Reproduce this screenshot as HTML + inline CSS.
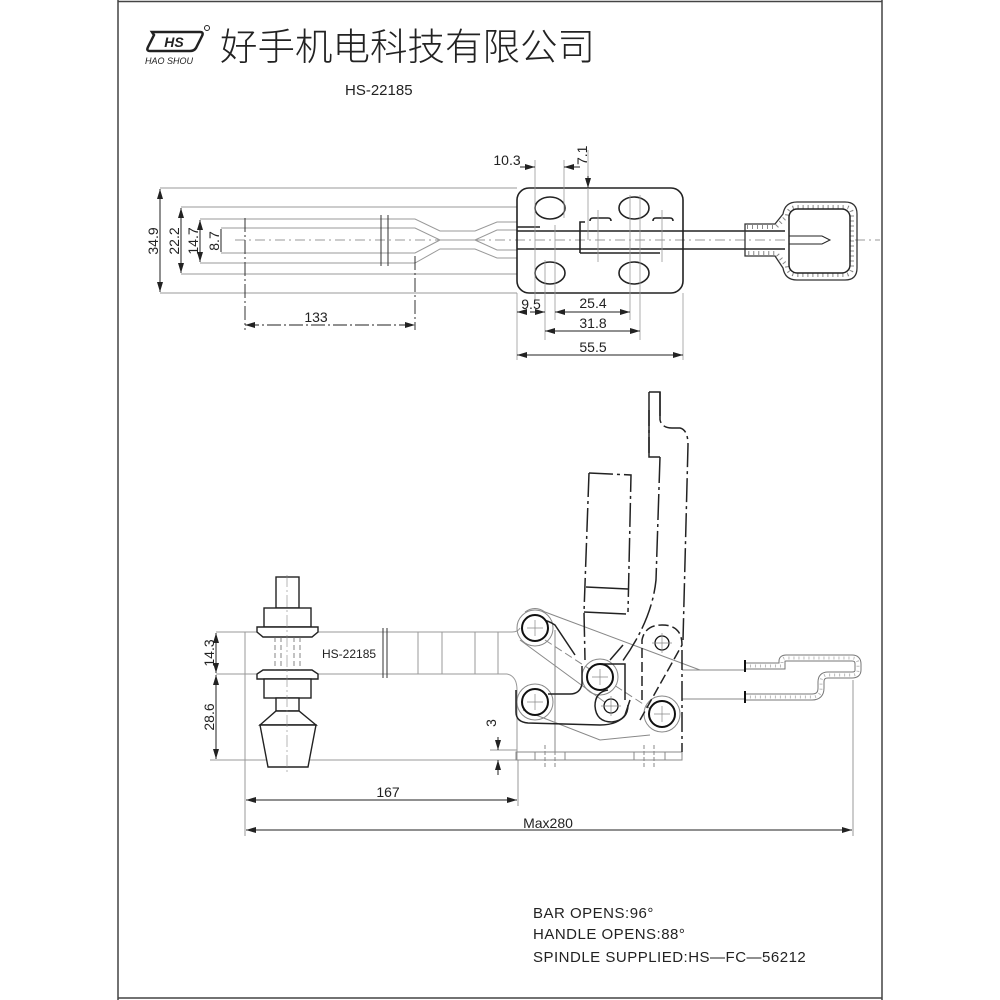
<!DOCTYPE html>
<html><head><meta charset="utf-8"><style>
html,body{margin:0;padding:0;background:#fff;width:1000px;height:1000px;overflow:hidden}
svg{display:block}
text{font-family:"Liberation Sans","Noto Sans CJK SC",sans-serif;fill:#222}
</style></head><body>
<svg width="1000" height="1000" viewBox="0 0 1000 1000" xmlns="http://www.w3.org/2000/svg">
<defs>
<marker id="a" viewBox="0 0 10 6" refX="10" refY="3" markerWidth="10" markerHeight="6" orient="auto-start-reverse" markerUnits="userSpaceOnUse"><path d="M0,0 L10,3 L0,6z" fill="#222"/></marker>
</defs>
<!-- frame -->
<line x1="118" y1="0" x2="118" y2="1000" stroke="#444" stroke-width="1.5"/>
<line x1="882" y1="0" x2="882" y2="1000" stroke="#444" stroke-width="1.5"/>
<line x1="118" y1="998" x2="882" y2="998" stroke="#444" stroke-width="1.5"/>
<line x1="118" y1="1.5" x2="882" y2="1.5" stroke="#444" stroke-width="1.5"/>

<!-- header -->
<path d="M152,32 L200,32 Q204,32 202,36 L196,48 Q194,51 190,51 L150,51 Q146,51 148,47 L154,35 Z" fill="none" stroke="#222" stroke-width="2.5"/>
<text x="174" y="47" font-size="14" font-weight="bold" font-style="italic" text-anchor="middle">HS</text>
<circle cx="207" cy="28" r="2.5" fill="none" stroke="#222"/>
<text x="145" y="64" font-size="9" font-style="italic">HAO SHOU</text>
<text x="220" y="60" font-size="37.5" style="font-family:'Noto Sans CJK SC',sans-serif;font-weight:300">好手机电科技有限公司</text>
<text x="345" y="95" font-size="15">HS-22185</text>

<!-- ===== TOP VIEW ===== -->
<g fill="none" stroke="#999" stroke-width="1">
<line x1="160" y1="188" x2="517" y2="188"/>
<line x1="160" y1="293" x2="517" y2="293"/>
<line x1="181" y1="207" x2="517" y2="207"/>
<line x1="181" y1="274" x2="517" y2="274"/>
<path d="M200,219 L415,219 L440,231 L475,231 L497,222 L517,222"/>
<path d="M200,263 L415,263 L440,249 L475,249 L497,258 L517,258"/>
<path d="M221,228 L415,228 L440,240 L475,240 L497,230 L517,230"/>
<path d="M221,253 L415,253 L440,240"/>
<path d="M475,240 L497,250 L517,250"/>
<line x1="235" y1="240" x2="880" y2="240" stroke-dasharray="10,4,2,4"/>
</g>
<g stroke="#333" stroke-width="1">
<line x1="381" y1="215" x2="381" y2="266"/><line x1="388" y1="215" x2="388" y2="266"/>
<line x1="245" y1="218" x2="245" y2="330" stroke-dasharray="14,3,2,3"/>
<line x1="415" y1="256" x2="415" y2="330" stroke-dasharray="14,3,2,3"/>
</g>
<g stroke="#222" stroke-width="1" marker-start="url(#a)" marker-end="url(#a)">
<line x1="160" y1="189" x2="160" y2="292"/>
<line x1="181" y1="208" x2="181" y2="273"/>
<line x1="200" y1="220" x2="200" y2="262"/>
<line x1="245" y1="325" x2="415" y2="325" stroke-dasharray="14,3,2,3"/>
</g>
<line x1="221" y1="229" x2="221" y2="252" stroke="#222"/>
<text transform="translate(158,241) rotate(-90)" font-size="14" text-anchor="middle">34.9</text>
<text transform="translate(179,241) rotate(-90)" font-size="14" text-anchor="middle">22.2</text>
<text transform="translate(198,241) rotate(-90)" font-size="14" text-anchor="middle">14.7</text>
<text transform="translate(219,241) rotate(-90)" font-size="14" text-anchor="middle">8.7</text>
<text x="316" y="322" font-size="14" text-anchor="middle">133</text>

<!-- base plate -->
<rect x="517" y="188" width="166" height="105" rx="12" fill="none" stroke="#222" stroke-width="1.6"/>
<g fill="none" stroke="#222" stroke-width="1.6">
<ellipse cx="550" cy="208" rx="15" ry="11"/><ellipse cx="634" cy="208" rx="15" ry="11"/>
<ellipse cx="550" cy="273" rx="15" ry="11"/><ellipse cx="634" cy="273" rx="15" ry="11"/>
<line x1="517" y1="231" x2="785" y2="231"/><line x1="517" y1="249" x2="785" y2="249"/>
<line x1="517" y1="227" x2="540" y2="227"/>
<path d="M580,253 L580,222 L585,222"/><line x1="580" y1="253" x2="660" y2="253"/>
<path d="M590,221 Q590,218 593,218 L608,218 Q611,218 611,221"/>
<path d="M653,221 Q653,218 656,218 L670,218 Q673,218 673,221"/>
</g>
<g stroke="#999" stroke-width="0.8">
<line x1="535" y1="160" x2="535" y2="300"/><line x1="564" y1="160" x2="564" y2="218"/>
<line x1="545" y1="260" x2="545" y2="340"/><line x1="555" y1="225" x2="555" y2="320"/>
<line x1="630" y1="195" x2="630" y2="320"/><line x1="640" y1="195" x2="640" y2="340"/>
<line x1="517" y1="293" x2="517" y2="360"/><line x1="683" y1="293" x2="683" y2="360"/>
<line x1="588" y1="150" x2="588" y2="240"/>
<line x1="662" y1="210" x2="662" y2="262"/><line x1="598" y1="210" x2="598" y2="262"/>
</g>
<g stroke="#222" stroke-width="1" marker-end="url(#a)">
<line x1="520" y1="167" x2="535" y2="167"/><line x1="580" y1="167" x2="564" y2="167"/>
<line x1="588" y1="176" x2="588" y2="188"/>
<line x1="520" y1="312" x2="517" y2="312"/><line x1="530" y1="312" x2="545" y2="312"/>
</g>
<g stroke="#222" stroke-width="1" marker-start="url(#a)" marker-end="url(#a)">
<line x1="555" y1="312" x2="630" y2="312"/>
<line x1="545" y1="331" x2="640" y2="331"/>
<line x1="517" y1="355" x2="683" y2="355"/>
</g>
<text x="507" y="165" font-size="14" text-anchor="middle">10.3</text>
<text transform="translate(587,165) rotate(-90)" font-size="14">7.1</text>
<text x="531" y="309" font-size="14" text-anchor="middle">9.5</text>
<text x="593" y="308" font-size="14" text-anchor="middle">25.4</text>
<text x="593" y="328" font-size="14" text-anchor="middle">31.8</text>
<text x="593" y="352" font-size="14" text-anchor="middle">55.5</text>

<!-- handle grip top -->
<g fill="none">
<path d="M745,224 L775,224 L783,214 Q785,202 797,202 L845,202 Q857,202 857,214 L857,268 Q857,280 845,280 L797,280 Q785,280 783,268 L775,256 L745,256 Z" stroke="#333" stroke-width="1.3"/>
<path d="M747,227 L776,227 L787,216 Q788,207 798,207 L845,207 Q852,207 852,215 L852,267 Q852,275 844,275 L798,275 Q788,275 787,266 L776,253 L747,253" stroke="#888" stroke-width="4" stroke-dasharray="1,4"/>
<rect x="789" y="209" width="61" height="64" rx="8" stroke="#222" stroke-width="1.5" fill="#fff"/>
<path d="M789,236 L822,236 L830,240 L822,244 L789,244" stroke="#222"/>
</g>

<!-- ===== SIDE VIEW ===== -->
<g fill="none" stroke="#999" stroke-width="1">
<line x1="245" y1="632" x2="512" y2="632"/><line x1="245" y1="674" x2="507" y2="674"/>
<path d="M512,632 Q518,632 520,628"/><path d="M507,674 Q517,676 517,690 L517,760"/>
<line x1="418" y1="632" x2="418" y2="674"/><line x1="442" y1="632" x2="442" y2="674"/>
<line x1="475" y1="632" x2="475" y2="674"/><line x1="498" y1="632" x2="498" y2="674"/>
<line x1="216" y1="632" x2="262" y2="632"/><line x1="216" y1="674" x2="262" y2="674"/>
<line x1="210" y1="760" x2="520" y2="760"/>
<line x1="245" y1="632" x2="245" y2="836"/>
<line x1="518" y1="760" x2="518" y2="806"/>
<line x1="853" y1="680" x2="853" y2="836"/>
<line x1="490" y1="750" x2="517" y2="750"/>
</g>
<g stroke="#333" stroke-width="1"><line x1="383" y1="628" x2="383" y2="678"/><line x1="387" y1="628" x2="387" y2="678"/></g>
<text x="322" y="658" font-size="12">HS-22185</text>
<g fill="#fff" stroke="#222" stroke-width="1.4">
<rect x="276" y="577" width="23" height="31"/>
<rect x="264" y="608" width="47" height="19"/>
<path d="M257,627 L318,627 L318,632 L312,637 L263,637 L257,632 Z"/>
<path d="M263,670 L312,670 L318,674 L318,679 L257,679 L257,674 Z"/>
<rect x="264" y="679" width="47" height="19"/>
<rect x="276" y="698" width="23" height="13"/>
<path d="M276,711 L299,711 L316,725 L260,725 Z"/>
<path d="M260,725 L316,725 L308,767 L268,767 Z"/>
</g>
<g stroke="#666" stroke-width="0.8" stroke-dasharray="5,3"><line x1="275" y1="637" x2="275" y2="670"/><line x1="300" y1="637" x2="300" y2="670"/><line x1="281" y1="637" x2="281" y2="670"/><line x1="294" y1="637" x2="294" y2="670"/></g>
<line x1="287" y1="575" x2="287" y2="775" stroke="#888" stroke-width="0.6" stroke-dasharray="12,3,2,3"/>
<g stroke="#222" stroke-width="1" marker-start="url(#a)" marker-end="url(#a)">
<line x1="216" y1="633" x2="216" y2="673"/>
<line x1="216" y1="675" x2="216" y2="759"/>
<line x1="246" y1="800" x2="517" y2="800"/>
<line x1="246" y1="830" x2="852" y2="830"/>
</g>
<g stroke="#222" stroke-width="1" marker-end="url(#a)"><line x1="498" y1="737" x2="498" y2="750"/><line x1="498" y1="775" x2="498" y2="760"/></g>
<text transform="translate(214,653) rotate(-90)" font-size="14" text-anchor="middle">14.3</text>
<text transform="translate(214,717) rotate(-90)" font-size="14" text-anchor="middle">28.6</text>
<text transform="translate(496,723) rotate(-90)" font-size="14" text-anchor="middle">3</text>
<text x="388" y="797" font-size="14" text-anchor="middle">167</text>
<text x="548" y="828" font-size="14" text-anchor="middle">Max280</text>

<g fill="none" stroke="#888" stroke-width="1">
<rect x="516" y="752" width="166" height="8"/>
<line x1="535" y1="752" x2="535" y2="760"/><line x1="565" y1="752" x2="565" y2="760"/>
<line x1="634" y1="752" x2="634" y2="760"/><line x1="665" y1="752" x2="665" y2="760"/>
<line x1="545" y1="745" x2="545" y2="768" stroke-dasharray="4,2"/><line x1="555" y1="745" x2="555" y2="768" stroke-dasharray="4,2"/>
<line x1="644" y1="745" x2="644" y2="768" stroke-dasharray="4,2"/><line x1="654" y1="745" x2="654" y2="768" stroke-dasharray="4,2"/>
<line x1="555" y1="630" x2="555" y2="752"/>
<path d="M525,612 Q535,605 545,612 L700,670"/>
<path d="M520,640 L610,706"/><path d="M545,640 L660,715" stroke-dasharray="8,4"/>
<path d="M523,710 L600,740 L650,735"/>
<line x1="682" y1="670" x2="745" y2="670"/><line x1="682" y1="699" x2="745" y2="699"/>
<circle cx="535" cy="628" r="18"/><circle cx="535" cy="702" r="18"/><circle cx="600" cy="677" r="18"/><circle cx="662" cy="714" r="18"/>
</g>
<g fill="none" stroke="#222" stroke-width="1.5">
<path d="M527,624 Q540,615 555,625 L575,655"/>
<path d="M582,666 L582,684 Q580,694 570,694 L548,694"/>
<path d="M516,690 L516,712 Q516,722 528,723 L600,725 Q618,725 625,715 L630,700"/>
<path d="M682,650 L682,752" stroke-dasharray="20,4,3,4"/>
<path d="M642,700 L642,640 Q645,625 662,625 Q682,625 682,645 L640,720" stroke-dasharray="10,4"/>
<path d="M600,664 L625,664 L625,700"/>
<path d="M608,690 Q595,692 595,706 Q596,722 612,722 Q628,720 628,705"/>
</g>
<g fill="#fff" stroke="#111" stroke-width="2">
<circle cx="535" cy="628" r="13"/><circle cx="535" cy="702" r="13"/>
<circle cx="600" cy="677" r="13"/><circle cx="662" cy="714" r="13"/>
<circle cx="611" cy="706" r="7" stroke-width="1.3"/><circle cx="662" cy="643" r="7" stroke-width="1.3"/>
</g>
<g stroke="#888" stroke-width="0.7">
<path d="M527,628h16M535,620v16M527,702h16M535,694v16M592,677h16M600,669v16M654,714h16M662,706v16M601,706h20M611,696v20M652,643h20M662,633v20"/>
</g>
<g fill="none" stroke="#222" stroke-width="1.5">
<path d="M649,392 L660,392 L660,420" />
<path d="M660,392 L660,420 Q662,428 672,428 L680,428 Q688,430 688,445 L683,640" stroke-dasharray="24,4,3,4"/>
<path d="M649,392 L649,457 L660,457"/>
<path d="M649,410 L649,457" stroke-dasharray="16,4,3,4"/>
<path d="M660,457 L656,580 Q652,620 622,662" stroke-dasharray="26,4,3,4"/>
<path d="M589,473 L631,475 L628,612" stroke-dasharray="24,4,3,4"/>
<path d="M589,473 L584,612 L585,660" stroke-dasharray="24,4,3,4"/>
<path d="M586,587 L628,589"/><path d="M584,612 L626,614"/>
<path d="M623,645 L610,660"/>
</g>
<g fill="none">
<path d="M745,666 L782,666 L782,661 Q782,658 786,658 L852,658 Q858,658 858,664 L858,670 Q858,675 852,675 L828,675 Q821,675 821,682 L821,688 Q821,697 812,697 L745,697" stroke="#777" stroke-width="7"/>
<path d="M745,666 L782,666 L782,661 Q782,658 786,658 L852,658 Q858,658 858,664 L858,670 Q858,675 852,675 L828,675 Q821,675 821,682 L821,688 Q821,697 812,697 L745,697" stroke="#fff" stroke-width="5"/>
<path d="M745,666 L782,666 L782,661 Q782,658 786,658 L852,658 Q858,658 858,664 L858,670 Q858,675 852,675 L828,675 Q821,675 821,682 L821,688 Q821,697 812,697 L745,697" stroke="#bbb" stroke-width="3" stroke-dasharray="1,4"/>
<line x1="745" y1="660" x2="745" y2="672" stroke="#111" stroke-width="2"/>
<line x1="745" y1="691" x2="745" y2="703" stroke="#111" stroke-width="2"/>
</g>

<text x="533" y="918" font-size="15" letter-spacing="0.5">BAR  OPENS:96°</text>
<text x="533" y="939" font-size="15" letter-spacing="0.5">HANDLE  OPENS:88°</text>
<text x="533" y="962" font-size="15" letter-spacing="0.5">SPINDLE  SUPPLIED:HS—FC—56212</text>
</svg>
</body></html>
